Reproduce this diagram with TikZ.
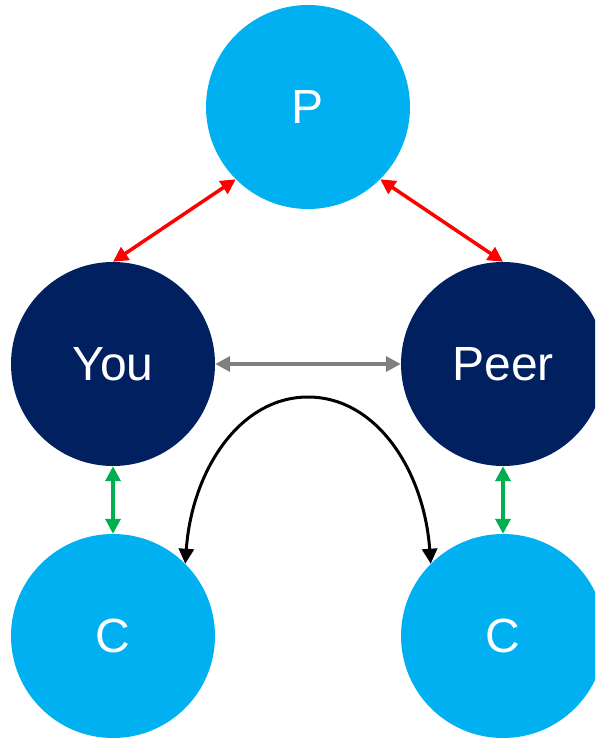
\documentclass[tikz,border=0pt]{standalone}
\usepackage{fontspec}
\setmainfont{Liberation Sans}
\usetikzlibrary{arrows.meta}
\definecolor{lblue}{HTML}{00B0F0}
\definecolor{navy}{HTML}{002060}
\definecolor{grn}{HTML}{00B050}
\definecolor{gry}{HTML}{7F7F7F}
\tikzset{
  bubble/.style={circle, minimum size=204pt, inner sep=0pt, text=white, font=\fontsize{48}{48}\selectfont},
  light/.style={bubble, fill=lblue},
  dark/.style={bubble, fill=navy},
  link/.style={line width=3.5pt, {Triangle[length=15pt,width=15pt]}-{Triangle[length=15pt,width=15pt]}},
}
\begin{document}
\begin{tikzpicture}[x=1pt,y=-1pt]
\clip (0,0) rectangle (595,738);
\useasboundingbox (0,0) rectangle (595,738);
\node[light] (P) at (308,107) {P};
\node[dark] (You) at (113,364) {You};
\node[dark] (Peer) at (503,364) {Peer};
\node[light] (C1) at (113,636) {C};
\node[light] (C2) at (503,636) {C};
\coordinate (apex) at (308,397);
\draw[link, red] (P.south west) -- (You.north);
\draw[link, red] (P.south east) -- (Peer.north);
\draw[link, gry] (You.east) -- (Peer.west);
\draw[link, grn] (You.south) -- (C1.north);
\draw[link, grn] (Peer.south) -- (C2.north);
\draw[link, black, line width=3pt] (C1.north east) .. controls (192,470) and (240,397) .. (apex) .. controls (376,397) and (424,470) .. (C2.north west);
\end{tikzpicture}
\end{document}
